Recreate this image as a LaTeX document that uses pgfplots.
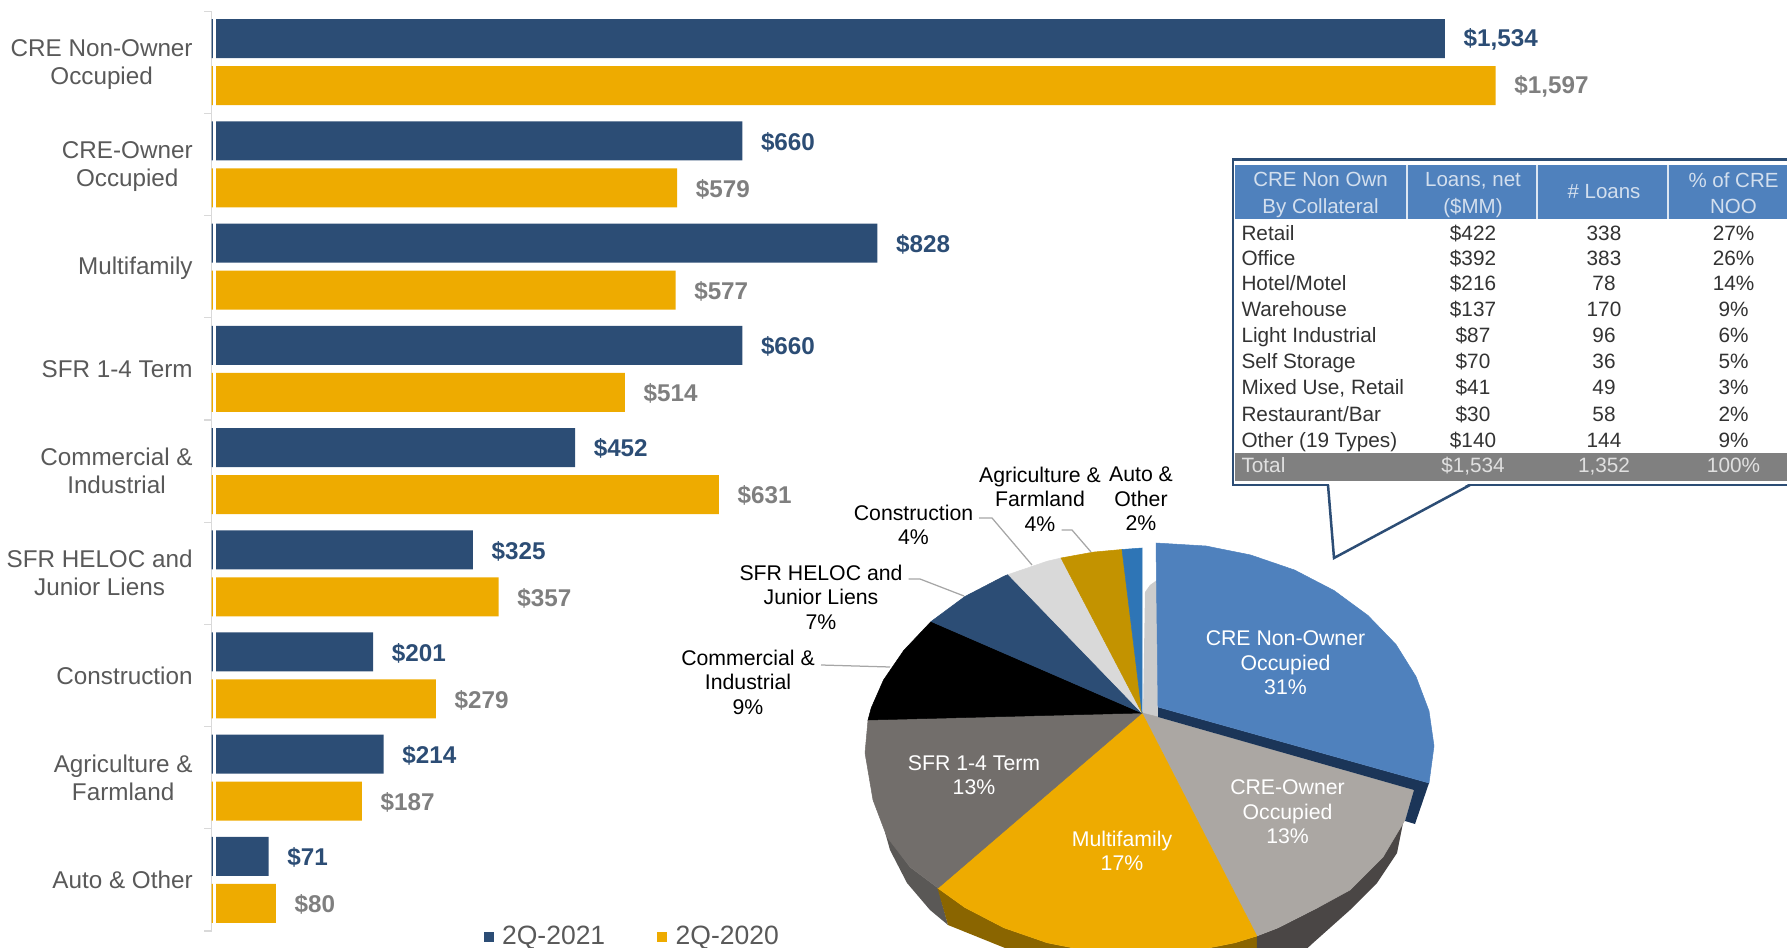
\documentclass[border=0pt]{standalone}
\usepackage{fontspec}
\setmainfont{Liberation Sans}
\usepackage{pgfplots}
\pgfplotsset{compat=1.18}
\definecolor{navy}{HTML}{2C4D75}
\definecolor{gold}{HTML}{EEAB00}
\definecolor{txt}{HTML}{595959}
\definecolor{lbl}{HTML}{7F7F7F}
\definecolor{hdr}{HTML}{4F81BD}
\definecolor{hdrt}{HTML}{D3DFEE}
\definecolor{leader}{HTML}{A6A6A6}
\definecolor{HTMLside}{HTML}{8A6500}
\definecolor{HTMLwall}{HTML}{4A4645}
\definecolor{HTMLleft}{HTML}{5A5856}
\definecolor{HTMLinner}{HTML}{CCCCCC}
\definecolor{HTMLowner}{HTML}{ABA7A3}
\definecolor{HTMLsfr}{HTML}{726E6B}
\definecolor{HTMLag}{HTML}{C39300}
\definecolor{HTMLauto}{HTML}{2E75B6}
\definecolor{HTMLband}{HTML}{1B3558}
\newcommand{\catf}{\fontsize{9.7}{11.2}\selectfont}
\newcommand{\valf}{\fontsize{9.7}{11.2}\selectfont\bfseries}
\newcommand{\pief}{\fontsize{8.5}{9.8}\selectfont}
\newcommand{\tabf}{\fontsize{8.3}{10}\selectfont}
\newcommand{\hdrf}{\fontsize{8.2}{10.5}\selectfont}
\begin{document}
\begin{tikzpicture}[x=1pt,y=1pt]
\path[use as bounding box] (0,0) rectangle (714.8pt,379.2pt);
\begin{axis}[
  at={(84.64pt,6.8pt)}, anchor=south west,
  scale only axis, width=578.9pt, height=367.95pt,
  xmin=0, xmax=1800, ymin=-0.5, ymax=8.5, y dir=reverse,
  axis y line*=left, hide x axis,
  axis line style={draw=black!15, line width=0.5pt},
  xbar, bar width=15.6pt,
  ytick={0.02,1.025,2.02,3,4,5,6,7,8},
  yticklabels={{CRE Non-Owner\\Occupied},{CRE-Owner\\Occupied},{Multifamily},{SFR 1-4 Term},{Commercial \&\\Industrial},{SFR HELOC and\\Junior Liens},{Construction},{Agriculture \&\\Farmland},{Auto \& Other}},
  major tick length=0pt,
  minor ytick={-0.5,0.5,1.5,2.5,3.5,4.5,5.5,6.5,7.5,8.5},
  minor tick length=3pt,
  y tick style={draw=black!15, line width=0.5pt},
  yticklabel style={font=\catf, text=txt, align=center, inner sep=0pt, xshift=-7.4pt},
  nodes near coords={\$\pgfmathprintnumber[assume math mode=true,1000 sep={,}]{\pgfplotspointmeta}},
  point meta=x,
  clip=false,
  legend columns=2,
  legend style={draw=none, fill=none, at={(axis cs:338,8.56)}, anchor=west, font=\fontsize{10.6}{12}\selectfont\color{txt}, inner sep=0pt, row sep=0pt,
    /tikz/every even column/.append style={column sep=18.9pt}},
]
\addplot[fill=navy, draw=none, bar shift=9.4pt,
  nodes near coords style={anchor=west, inner sep=0pt, xshift=7.3pt, yshift=-0.45pt, font=\valf, text=navy},
  legend image code/.code={\fill[navy] (0pt,-2pt) rectangle (4pt,2pt); \path (5.3pt,0pt);}]
  coordinates {(1534,0) (660,1) (828,2) (660,3) (452,4) (325,5) (201,6) (214,7) (71,8)};
\addlegendentry{2Q-2021}
\addplot[fill=gold, draw=none, bar shift=-9.4pt,
  nodes near coords style={anchor=west, inner sep=0pt, xshift=7.3pt, yshift=-0.45pt, font=\valf, text=lbl},
  legend image code/.code={\fill[gold] (0pt,-2pt) rectangle (4pt,2pt); \path (5.3pt,0pt);}]
  coordinates {(1597,0) (579,1) (577,2) (514,3) (631,4) (357,5) (279,6) (187,7) (80,8)};
\addlegendentry{2Q-2020}
\end{axis}

\begin{axis}[
  at={(0pt,0pt)}, anchor=south west,
  scale only axis, width=714.8pt, height=379.2pt,
  xmin=0, xmax=1787, ymin=0, ymax=948, y dir=reverse,
  hide axis,
]
% gap between the axis line and the start of the bars
\fill[white] (axis cs:212.6,14) rectangle (axis cs:215.5,928);
% pie side walls
\addplot[fill=HTMLleft, draw=none] coordinates {(885,832) (910,867) (938,888) (948,925) (930,910) (907,883) (890,850)} --cycle;
\addplot[fill=HTMLside, draw=none] coordinates {(937.4,887.8) (964.9,907.5) (1004,927.8) (1047.3,942.8) (1093.4,951.9) (1141,955) (1188.6,951.9) (1234.7,942.8) (1256.8,936) (1257,985) (1141,1000) (1005,948) (948,925)} --cycle;
\addplot[fill=HTMLwall, draw=none] coordinates {(1256.8,936) (1278,927.8) (1317,908) (1350,888) (1383,855) (1405,818) (1403,823) (1397,853) (1377,883) (1350,910) (1313,943) (1300,955) (1257,985)} --cycle;
% inner wall behind exploded slice
\addplot[fill=HTMLinner, draw=none] coordinates {(1143,713) (1145,592) (1150,585) (1157,580) (1158,718)} --cycle;
% pie top surfaces
\addplot[fill=HTMLowner, draw=HTMLowner, line width=0.2pt] coordinates {(1142,713) (1158,717) (1414,790) (1405,820) (1383,857) (1350,890) (1317,908) (1278,927.8) (1256.8,936)} --cycle;
\addplot[fill=gold, draw=gold, line width=0.2pt] coordinates {(1142,713) (1256.8,936) (1234.7,942.8) (1188.6,951.9) (1141,955) (1093.4,951.9) (1047.3,942.8) (1004,927.8) (964.9,907.5) (937.4,887.8)} --cycle;
\addplot[fill=HTMLsfr, draw=HTMLsfr, line width=0.2pt] coordinates {(1142,713) (938,888) (910,867) (887,837) (873,800) (865,753) (868,720)} --cycle;
\addplot[fill=black, draw=black, line width=0.2pt] coordinates {(1142,713) (868,720) (871.2,708) (883.5,680) (903.7,650.5) (931.1,621.5)} --cycle;
\addplot[fill=navy, draw=navy, line width=0.2pt] coordinates {(1142,713) (931.1,621.5) (964.9,596.5) (1004,576.2) (1008.2,574.5)} --cycle;
\addplot[fill=black!15, draw=black!15, line width=0.2pt] coordinates {(1142,713) (1008.2,574.5) (1047.3,561.2) (1061,558)} --cycle;
\addplot[fill=HTMLag, draw=HTMLag, line width=0.2pt] coordinates {(1142,713) (1061,558) (1093.4,552.1) (1122,549.5)} --cycle;
\addplot[fill=HTMLauto, draw=HTMLauto, line width=0.2pt] coordinates {(1142,713) (1122,549.5) (1142,548)} --cycle;
% exploded slice
\addplot[fill=HTMLband, draw=none] coordinates {(1158,707) (1429,783) (1415,824) (1405,821) (1414,790) (1158,717)} --cycle;
\addplot[fill=hdr, draw=hdr, line width=0.2pt] coordinates {(1158,707) (1156,543) (1206,546) (1250.7,555) (1294.5,570) (1334,590.5) (1368,615.5) (1396,644.5) (1416,676.6) (1429,711) (1434,746) (1429,783)} --cycle;
% leader lines
\addplot[draw=leader, line width=0.5pt] coordinates {(979,518) (992,518) (1032,565)};
\addplot[draw=leader, line width=0.5pt] coordinates {(1061.5,530) (1072,530) (1091,552)};
\addplot[draw=leader, line width=0.5pt] coordinates {(908.5,579) (920,579) (964,596)};
\addplot[draw=leader, line width=0.5pt] coordinates {(821,665) (890,667)};
% pie labels
\node[align=center, text=white, font=\pief] at (axis cs:1285.5,663) {CRE Non-Owner\\Occupied\\31\%};
\node[align=center, text=white, font=\pief] at (axis cs:1287.5,812) {CRE-Owner\\Occupied\\13\%};
\node[align=center, text=white, font=\pief] at (axis cs:1122,851) {Multifamily\\17\%};
\node[align=center, text=white, font=\pief] at (axis cs:974,775) {SFR 1-4 Term\\13\%};
\node[align=center, text=black, font=\pief] at (axis cs:748,682) {Commercial \&\\Industrial\\9\%};
\node[align=center, text=black, font=\pief] at (axis cs:821,597) {SFR HELOC and\\Junior Liens\\7\%};
\node[align=center, text=black, font=\pief] at (axis cs:913.5,525) {Construction\\4\%};
\node[align=center, text=black, font=\pief] at (axis cs:1040,499) {Agriculture \&\\Farmland\\4\%};
\node[align=center, text=black, font=\pief] at (axis cs:1141,499) {Auto \&\\Other\\2\%};
% inset table
\addplot[fill=white, draw=navy, line width=1pt] coordinates {(1233,159.5) (1800,159.5) (1800,485) (1233,485)} --cycle;
\addplot[fill=white, draw=none] coordinates {(1329,483) (1334,558) (1470,483)} --cycle;
\addplot[draw=navy, line width=1pt] coordinates {(1328,485) (1334,558) (1470,485)};
\fill[hdr] (axis cs:1235,165) rectangle (axis cs:1800,219);
\fill[black!50] (axis cs:1235,453) rectangle (axis cs:1800,481);
\draw[white!80!hdr, line width=0.5pt] (axis cs:1407,165) -- (axis cs:1407,219);
\draw[white!80!hdr, line width=0.5pt] (axis cs:1537,165) -- (axis cs:1537,219);
\draw[white!80!hdr, line width=0.5pt] (axis cs:1668,165) -- (axis cs:1668,219);
\node[align=center, text=hdrt, font=\hdrf] at (axis cs:1320.5,195) {CRE Non Own\\By Collateral};
\node[align=center, text=hdrt, font=\hdrf] at (axis cs:1473,195) {Loans, net\\(\$MM)};
\node[align=center, text=hdrt, font=\hdrf] at (axis cs:1604,192) {\# Loans};
\node[align=center, text=hdrt, font=\hdrf] at (axis cs:1733.5,193) {\% of CRE\\NOO};
\tikzset{tl/.style={anchor=west, inner sep=0pt, text height=6pt, text depth=1.8pt, yshift=-0.9pt, font=\tabf, text=black!80},
         tc/.style={inner sep=0pt, text height=6pt, text depth=1.8pt, yshift=-0.9pt, font=\tabf, text=black!80},
         ttl/.style={anchor=west, inner sep=0pt, text height=6pt, text depth=1.8pt, yshift=-0.5pt, font=\tabf, text=black!12},
         ttc/.style={inner sep=0pt, text height=6pt, text depth=1.8pt, yshift=-0.5pt, font=\tabf, text=black!12}}
\node[tl] at (axis cs:1241,233) {Retail};
\node[tc] at (axis cs:1473,233) {\$422};
\node[tc] at (axis cs:1604,233) {338};
\node[tc] at (axis cs:1733.5,233) {27\%};
\node[tl] at (axis cs:1241,258) {Office};
\node[tc] at (axis cs:1473,258) {\$392};
\node[tc] at (axis cs:1604,258) {383};
\node[tc] at (axis cs:1733.5,258) {26\%};
\node[tl] at (axis cs:1241,283) {Hotel/Motel};
\node[tc] at (axis cs:1473,283) {\$216};
\node[tc] at (axis cs:1604,283) {78};
\node[tc] at (axis cs:1733.5,283) {14\%};
\node[tl] at (axis cs:1241,309) {Warehouse};
\node[tc] at (axis cs:1473,309) {\$137};
\node[tc] at (axis cs:1604,309) {170};
\node[tc] at (axis cs:1733.5,309) {9\%};
\node[tl] at (axis cs:1241,335) {Light Industrial};
\node[tc] at (axis cs:1473,335) {\$87};
\node[tc] at (axis cs:1604,335) {96};
\node[tc] at (axis cs:1733.5,335) {6\%};
\node[tl] at (axis cs:1241,361) {Self Storage};
\node[tc] at (axis cs:1473,361) {\$70};
\node[tc] at (axis cs:1604,361) {36};
\node[tc] at (axis cs:1733.5,361) {5\%};
\node[tl] at (axis cs:1241,387) {Mixed Use, Retail};
\node[tc] at (axis cs:1473,387) {\$41};
\node[tc] at (axis cs:1604,387) {49};
\node[tc] at (axis cs:1733.5,387) {3\%};
\node[tl] at (axis cs:1241,414) {Restaurant/Bar};
\node[tc] at (axis cs:1473,414) {\$30};
\node[tc] at (axis cs:1604,414) {58};
\node[tc] at (axis cs:1733.5,414) {2\%};
\node[tl] at (axis cs:1241,440) {Other (19 Types)};
\node[tc] at (axis cs:1473,440) {\$140};
\node[tc] at (axis cs:1604,440) {144};
\node[tc] at (axis cs:1733.5,440) {9\%};
\node[ttl] at (axis cs:1241,466) {Total};
\node[ttc] at (axis cs:1473,466) {\$1,534};
\node[ttc] at (axis cs:1604,466) {1,352};
\node[ttc] at (axis cs:1733.5,466) {100\%};
\end{axis}
\end{tikzpicture}
\end{document}
